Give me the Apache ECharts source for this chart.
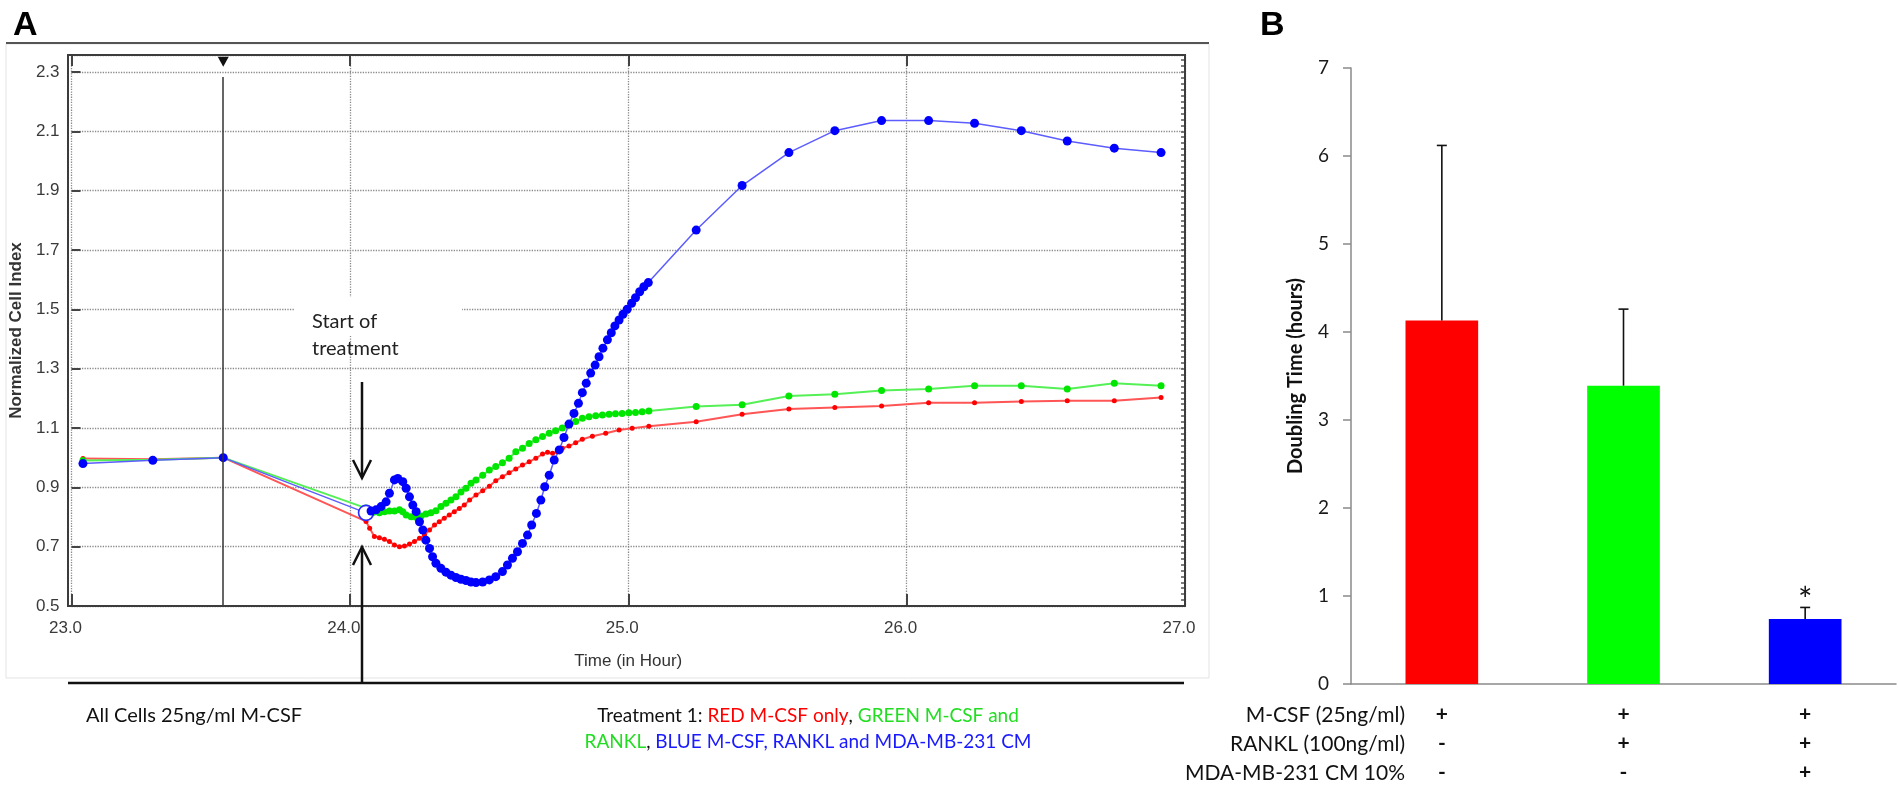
<!DOCTYPE html>
<html><head><meta charset="utf-8">
<script src="https://cdn.jsdelivr.net/npm/echarts@6/dist/echarts.min.js"></script>
<style>html,body{margin:0;padding:0;background:#fff}#c{width:1898px;height:787px}</style>
</head><body><div id="c"></div>
<script>
// ---------- Panel A data: [time (h), normalized cell index] ----------
const markerHour = 23.545;
const treatmentHour = 24.058;

const redPoints = [
[23.041,0.997],[23.292,0.995],[23.545,1.000],[24.058,0.785],[24.071,0.762],[24.088,0.734],[24.106,0.730],[24.124,0.725],[24.142,0.717],[24.160,0.706],[24.178,0.700],[24.196,0.702],[24.214,0.709],[24.232,0.717],[24.250,0.728],[24.268,0.739],[24.286,0.756],[24.304,0.773],[24.321,0.784],[24.339,0.796],[24.357,0.807],[24.375,0.818],[24.393,0.829],[24.411,0.840],[24.430,0.857],[24.453,0.874],[24.477,0.888],[24.501,0.904],[24.524,0.922],[24.548,0.936],[24.572,0.949],[24.596,0.962],[24.620,0.975],[24.644,0.986],[24.668,0.998],[24.692,1.012],[24.710,1.018],[24.728,1.015],[24.746,1.020],[24.763,1.032],[24.787,1.039],[24.811,1.050],[24.835,1.062],[24.871,1.072],[24.919,1.082],[24.967,1.093],[25.014,1.099],[25.074,1.106],
[25.244,1.121],[25.409,1.146],[25.577,1.164],[25.742,1.169],[25.910,1.174],[26.079,1.185],[26.244,1.185],[26.412,1.189],[26.577,1.192],[26.746,1.192],[26.914,1.203]
];
const greenPoints = [
[23.041,0.990],[23.292,0.993],[23.545,1.000],[24.058,0.830],[24.082,0.815],[24.106,0.814],[24.124,0.818],[24.142,0.820],[24.160,0.820],[24.178,0.824],[24.190,0.818],[24.202,0.807],[24.220,0.801],[24.238,0.799],[24.256,0.803],[24.273,0.810],[24.291,0.814],[24.309,0.821],[24.327,0.835],[24.345,0.846],[24.363,0.857],[24.381,0.868],[24.399,0.884],[24.417,0.897],[24.435,0.914],[24.453,0.925],[24.477,0.941],[24.501,0.958],[24.524,0.970],[24.548,0.983],[24.572,0.998],[24.596,1.020],[24.620,1.032],[24.644,1.048],[24.668,1.060],[24.692,1.071],[24.716,1.082],[24.739,1.091],[24.763,1.100],[24.787,1.110],[24.811,1.122],[24.835,1.133],[24.859,1.138],[24.883,1.141],[24.907,1.144],[24.931,1.146],[24.954,1.148],[24.978,1.149],[25.002,1.151],[25.026,1.152],[25.050,1.155],[25.074,1.157],
[25.244,1.172],[25.409,1.178],[25.577,1.208],[25.742,1.214],[25.910,1.226],[26.079,1.231],[26.244,1.242],[26.412,1.242],[26.577,1.231],[26.746,1.251],[26.914,1.242]
];
const bluePoints = [
[23.041,0.980],[23.292,0.991],[23.545,1.000],[24.058,0.814],
[24.076,0.820],[24.094,0.824],[24.112,0.835],[24.130,0.851],[24.142,0.880],[24.160,0.925],[24.172,0.930],[24.190,0.919],[24.202,0.897],[24.214,0.868],[24.226,0.840],[24.238,0.818],[24.250,0.784],[24.262,0.756],[24.273,0.722],[24.286,0.694],[24.297,0.666],[24.309,0.644],[24.327,0.627],[24.345,0.614],[24.363,0.604],[24.381,0.596],[24.399,0.590],[24.417,0.586],[24.435,0.581],[24.453,0.579],[24.477,0.581],[24.501,0.588],[24.524,0.599],[24.548,0.616],[24.566,0.638],[24.584,0.661],[24.602,0.683],[24.620,0.711],[24.638,0.739],[24.653,0.773],[24.670,0.812],[24.686,0.857],[24.700,0.902],[24.716,0.941],[24.734,0.992],[24.752,1.026],[24.769,1.068],[24.787,1.113],[24.805,1.149],[24.821,1.183],[24.835,1.219],[24.849,1.251],[24.865,1.285],[24.881,1.312],[24.895,1.340],[24.909,1.369],[24.925,1.397],[24.939,1.421],[24.952,1.444],[24.967,1.464],[24.981,1.483],[24.996,1.500],[25.012,1.520],[25.026,1.539],[25.041,1.559],[25.056,1.576],[25.072,1.590],
[25.244,1.767],[25.409,1.917],[25.577,2.028],[25.742,2.102],[25.910,2.136],[26.079,2.136],[26.244,2.127],[26.412,2.102],[26.577,2.067],[26.746,2.043],[26.914,2.028]
];

// ---------- Panel B data ----------
const bCategories = ['M-CSF', 'M-CSF + RANKL', 'M-CSF + RANKL + CM'];
const doublingMeans = [4.13, 3.39, 0.74];
const doublingSD = [1.99, 0.87, 0.13];
const barColors = ['#ff0000', '#00ff00', '#0000ff'];
const significance = ['', '', '*'];
const rowLabels = ['M-CSF (25ng/ml)', 'RANKL (100ng/ml)', 'MDA-MB-231 CM 10%'];
const rowSigns = [['+', '+', '+'], ['-', '+', '+'], ['-', '-', '+']];

const AX = "'Liberation Sans Narrow','Liberation Sans',Arial,sans-serif";
const TX = "Lato,'Open Sans',sans-serif";

function lineSeries(name, pts, mColor, lColor, size, lw) {
  return {
    name, type: 'line', xAxisIndex: 0, yAxisIndex: 0,
    data: pts.map(p => ({value: p})),
    symbol: 'circle', symbolSize: size, showSymbol: true, showAllSymbol: true,
    itemStyle: {color: mColor}, lineStyle: {color: lColor, width: lw},
    emphasis: {disabled: true}, animation: false
  };
}
const red = lineSeries('red', redPoints, '#ff0000', '#ff5555', 5, 2);
const green = lineSeries('green', greenPoints, '#00e600', '#55f055', 7, 2);
const blue = lineSeries('blue', bluePoints, '#0000ff', '#5c5cff', 9, 1.5);
const tIdx = bluePoints.findIndex(p => p[0] === treatmentHour);
blue.data[tIdx] = {value: bluePoints[tIdx], symbolSize: 15,
  itemStyle: {color: '#ffffff', borderColor: '#2b2bff', borderWidth: 1.6}};
red.markLine = {silent: true, symbol: 'none', animation: false, label: {show: false},
  lineStyle: {color: '#333', width: 1.5, type: 'solid'},
  data: [[{coord: [markerHour, 0.5]}, {coord: [markerHour, 2.283]}]]};
red.markPoint = {silent: true, animation: false, symbol: 'triangle', symbolRotate: 180,
  symbolSize: [11, 10], itemStyle: {color: '#111'}, label: {show: false},
  data: [{coord: [markerHour, 2.334]}]};

const chart = echarts.init(document.getElementById('c'), null, {renderer: 'canvas'});
const option = {
  animation: false,
  backgroundColor: '#ffffff',
  grid: [
    {left: 68, top: 55, width: 1117, height: 551},
    {left: 1351, top: 68, width: 545, height: 616}
  ],
  xAxis: [
    {type: 'value', gridIndex: 0, min: 23, max: 27, interval: 1,
     axisLine: {show: false},
     axisTick: {inside: true, length: 12, lineStyle: {color: '#444', width: 2}},
     axisLabel: {formatter: v => v.toFixed(1), fontFamily: AX, fontSize: 17, color: '#3a3a3a', margin: 14, padding: [0, 12, 0, 0]},
     splitLine: {show: true, lineStyle: {type: 'dotted', color: '#8a8a8a', width: 1.3}},
     name: 'Time (in Hour)', nameLocation: 'middle', nameGap: 47,
     nameTextStyle: {fontFamily: AX, fontSize: 17, color: '#333'}},
    {type: 'value', gridIndex: 0, position: 'top', min: 23, max: 27, interval: 1,
     axisLine: {show: false},
     axisTick: {inside: true, length: 11, lineStyle: {color: '#444', width: 2}},
     axisLabel: {show: false}, splitLine: {show: false}},
    {type: 'category', gridIndex: 1, data: bCategories,
     axisLine: {lineStyle: {color: '#8a8a8a', width: 1.5}},
     axisTick: {length: 8, lineStyle: {color: '#8a8a8a', width: 1.5}},
     axisLabel: {formatter: (v, i) => rowSigns.map(r => r[i]).join('\n'),
       fontFamily: TX, fontSize: 21, fontWeight: 'bold', color: '#111', lineHeight: 29, margin: 16}}
  ],
  yAxis: [
    {type: 'value', gridIndex: 0, min: 0.5, max: 2.357, interval: 0.2,
     axisLine: {show: false},
     axisTick: {inside: true, length: 9, lineStyle: {color: '#444', width: 2}},
     axisLabel: {formatter: v => v.toFixed(1), showMaxLabel: false, fontFamily: AX, fontSize: 17, color: '#3a3a3a', margin: 12},
     splitLine: {show: true, lineStyle: {type: 'dotted', color: '#8a8a8a', width: 1.3}},
     name: 'Normalized Cell Index', nameLocation: 'middle', nameGap: 38,
     nameTextStyle: {fontFamily: "'Liberation Sans',Arial,sans-serif", fontWeight: 'bold', fontSize: 17, color: '#333'}},
    {type: 'value', gridIndex: 0, min: 0.5, max: 2.357, interval: 0.02,
     axisLine: {show: false},
     axisTick: {inside: true, length: 4, lineStyle: {color: '#555', width: 1.5}},
     axisLabel: {show: false}, splitLine: {show: false}},
    {type: 'value', gridIndex: 1, min: 0, max: 7, interval: 1,
     axisLine: {show: true, lineStyle: {color: '#8a8a8a', width: 1.5}},
     axisTick: {show: true, length: 8, lineStyle: {color: '#8a8a8a', width: 1.5}},
     axisLabel: {fontFamily: TX, fontSize: 19, color: '#1a1a1a', margin: 22},
     splitLine: {show: false},
     name: 'Doubling Time (hours)', nameLocation: 'middle', nameGap: 45,
     nameTextStyle: {fontFamily: TX, fontWeight: 'bold', fontSize: 20, color: '#111'}}
  ],
  series: [
    red, green, blue,
    {type: 'bar', xAxisIndex: 2, yAxisIndex: 2, barWidth: '40%',
     data: doublingMeans.map((v, i) => ({value: v, itemStyle: {color: barColors[i]}})),
     emphasis: {disabled: true}},
    {type: 'custom', xAxisIndex: 2, yAxisIndex: 2, z: 5,
     data: doublingMeans.map((v, i) => [i, v, v + doublingSD[i]]),
     renderItem: function (params, api) {
       const x = api.value(0), lo = api.value(1), hi = api.value(2);
       const p0 = api.coord([x, lo]), p1 = api.coord([x, hi]);
       const hw = 5;
       const children = [
         {type: 'line', shape: {x1: p0[0], y1: p0[1], x2: p1[0], y2: p1[1]}, style: {stroke: '#111', lineWidth: 1.6}},
         {type: 'line', shape: {x1: p1[0] - hw, y1: p1[1], x2: p1[0] + hw, y2: p1[1]}, style: {stroke: '#111', lineWidth: 1.6}}
       ];
       const s = significance[params.dataIndex];
       if (s) children.push({type: 'text', x: p1[0], y: p1[1] - 6,
         style: {text: s, fontSize: 34, fontFamily: TX, fill: '#111', align: 'center', verticalAlign: 'middle'}});
       return {type: 'group', children};
     }}
  ],
  graphic: [
    {type: 'rect', shape: {x: 6, y: 44, width: 1203, height: 634}, style: {fill: 'none', stroke: '#e3e3e3', lineWidth: 1}, z: 0, silent: true},
    {type: 'line', shape: {x1: 6, y1: 43, x2: 1209, y2: 43}, style: {stroke: '#555', lineWidth: 2}, z: 1, silent: true},
    {type: 'rect', shape: {x: 68, y: 55, width: 1117, height: 551}, style: {fill: 'none', stroke: '#3c3c3c', lineWidth: 2}, z: 20, silent: true},
    {type: 'line', shape: {x1: 68, y1: 683, x2: 1184, y2: 683}, style: {stroke: '#111', lineWidth: 2.5}, z: 20, silent: true},
    // white box behind annotation
    {type: 'rect', shape: {x: 295, y: 297, width: 167, height: 39}, style: {fill: '#fff'}, z: 1, silent: true},
    {type: 'text', x: 312, y: 308, style: {text: 'Start of\ntreatment', fontFamily: TX, fontSize: 20, lineHeight: 27, fill: '#222', align: 'left', verticalAlign: 'top'}, z: 21, silent: true},
    // arrows
    {type: 'line', shape: {x1: 362, y1: 382, x2: 362, y2: 477}, style: {stroke: '#111', lineWidth: 2.5}, z: 21, silent: true},
    {type: 'polyline', shape: {points: [[353, 460], [362, 478], [371, 460]]}, style: {stroke: '#111', lineWidth: 2.5, fill: 'none'}, z: 21, silent: true},
    {type: 'line', shape: {x1: 362, y1: 683, x2: 362, y2: 548}, style: {stroke: '#111', lineWidth: 2.5}, z: 21, silent: true},
    {type: 'polyline', shape: {points: [[353, 565], [362, 547], [371, 565]]}, style: {stroke: '#111', lineWidth: 2.5, fill: 'none'}, z: 21, silent: true},
    // panel letters
    {type: 'text', x: 13, y: 26, style: {text: 'A', fontFamily: "'Liberation Sans',Arial,sans-serif", fontWeight: 'bold', fontSize: 34, fill: '#000', verticalAlign: 'middle'}, z: 21, silent: true},
    {type: 'text', x: 1260, y: 26, style: {text: 'B', fontFamily: "'Liberation Sans',Arial,sans-serif", fontWeight: 'bold', fontSize: 34, fill: '#000', verticalAlign: 'middle'}, z: 21, silent: true},
    // captions under panel A
    {type: 'text', x: 86, y: 716, style: {text: 'All Cells 25ng/ml M-CSF', fontFamily: TX, fontSize: 20, fill: '#111', verticalAlign: 'middle'}, z: 21, silent: true},
    {type: 'text', x: 808, y: 703, style: {
      text: '{k|Treatment 1: }{r|RED M-CSF only}{k|, }{g|GREEN M-CSF and}\n{g|RANKL}{k|, }{b|BLUE M-CSF, RANKL and MDA-MB-231 CM}',
      fontFamily: TX, fontSize: 19, lineHeight: 26, align: 'center', verticalAlign: 'top',
      rich: {
        k: {fill: '#111', fontFamily: TX, fontSize: 19, lineHeight: 26},
        r: {fill: '#ff0000', fontFamily: TX, fontSize: 19, lineHeight: 26},
        g: {fill: '#22dd22', fontFamily: TX, fontSize: 19, lineHeight: 26},
        b: {fill: '#1a1aff', fontFamily: TX, fontSize: 19, lineHeight: 26}
      }}, z: 21, silent: true},
    // row labels for panel B
    ...rowLabels.map((t, i) => ({type: 'text', x: 1405, y: 715 + i * 29,
      style: {text: t, fontFamily: TX, fontSize: 21, fill: '#111', align: 'right', verticalAlign: 'middle'}, z: 21, silent: true}))
  ]
};
chart.setOption(option);
</script></body></html>
